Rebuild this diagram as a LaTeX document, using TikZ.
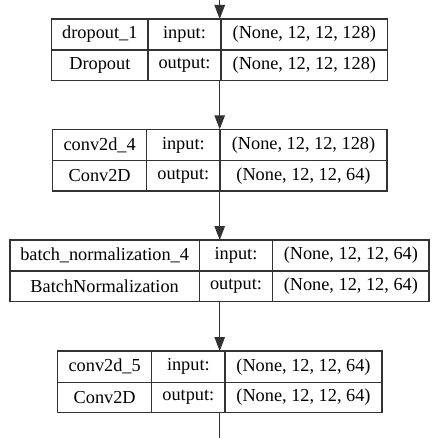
\documentclass[tikz,border=0pt]{standalone}
\usepackage{fontspec}
\setmainfont{Liberation Serif}
\usetikzlibrary{arrows.meta}
\tikzset{
  flow/.style={-{Triangle[length=14pt,width=10.5pt]}},
}
\begin{document}
\begin{tikzpicture}[x=1pt,y=-1pt,line width=1.1pt,draw=black!80,font=\fontsize{18.3}{20}\selectfont]
\useasboundingbox (0,0) rectangle (438,438);
% dropout_1
\draw (51.7,19) rectangle (148,50) node[pos=.5]{dropout\_1};
\draw (148,19) rectangle (221,50) node[pos=.5]{input:};
\draw (221,19) rectangle (387.7,50) node[pos=.5]{(None, 12, 12, 128)};
\draw (51.7,50) rectangle (148,80.5) node[pos=.5]{Dropout};
\draw (148,50) rectangle (221,80.5) node[pos=.5]{output:};
\draw (221,50) rectangle (387.7,80.5) node[pos=.5]{(None, 12, 12, 128)};
% conv2d_4
\draw (52.7,129.3) rectangle (146.7,160.7) node[pos=.5]{conv2d\_4};
\draw (146.7,129.3) rectangle (220,160.7) node[pos=.5]{input:};
\draw (220,129.3) rectangle (387,160.7) node[pos=.5]{(None, 12, 12, 128)};
\draw (52.7,160.7) rectangle (146.7,191) node[pos=.5]{Conv2D};
\draw (146.7,160.7) rectangle (220,191) node[pos=.5]{output:};
\draw (220,160.7) rectangle (387,191) node[pos=.5]{(None, 12, 12, 64)};
% batch_normalization_4
\draw (10,240) rectangle (199.3,271) node[pos=.5]{batch\_normalization\_4};
\draw (199.3,240) rectangle (272.7,271) node[pos=.5]{input:};
\draw (272.7,240) rectangle (429,271) node[pos=.5]{(None, 12, 12, 64)};
\draw (10,271) rectangle (199.3,301.7) node[pos=.5]{BatchNormalization};
\draw (199.3,271) rectangle (272.7,301.7) node[pos=.5]{output:};
\draw (272.7,271) rectangle (429,301.7) node[pos=.5]{(None, 12, 12, 64)};
% conv2d_5
\draw (57.7,351) rectangle (151.7,382.3) node[pos=.5]{conv2d\_5};
\draw (151.7,351) rectangle (225,382.3) node[pos=.5]{input:};
\draw (225,351) rectangle (382,382.3) node[pos=.5]{(None, 12, 12, 64)};
\draw (57.7,382.3) rectangle (151.7,412.7) node[pos=.5]{Conv2D};
\draw (151.7,382.3) rectangle (225,412.7) node[pos=.5]{output:};
\draw (225,382.3) rectangle (382,412.7) node[pos=.5]{(None, 12, 12, 64)};
% ends of the layers
\coordinate (feed) at (219.7,0);
\coordinate (drop top) at (219.7,19);
\coordinate (drop bot) at (219.7,80.5);
\coordinate (conv4 top) at (219.7,129.3);
\coordinate (conv4 bot) at (219.7,191);
\coordinate (bn4 top) at (219.7,240);
\coordinate (bn4 bot) at (219.7,301.7);
\coordinate (conv5 top) at (219.7,351);
\coordinate (conv5 bot) at (219.7,412.7);
\coordinate (onward) at (219.7,438);
\draw[flow] (feed) -- (drop top);
\draw[flow] (drop bot) -- (conv4 top);
\draw[flow] (conv4 bot) -- (bn4 top);
\draw[flow] (bn4 bot) -- (conv5 top);
\draw (conv5 bot) -- (onward);
\end{tikzpicture}
\end{document}
